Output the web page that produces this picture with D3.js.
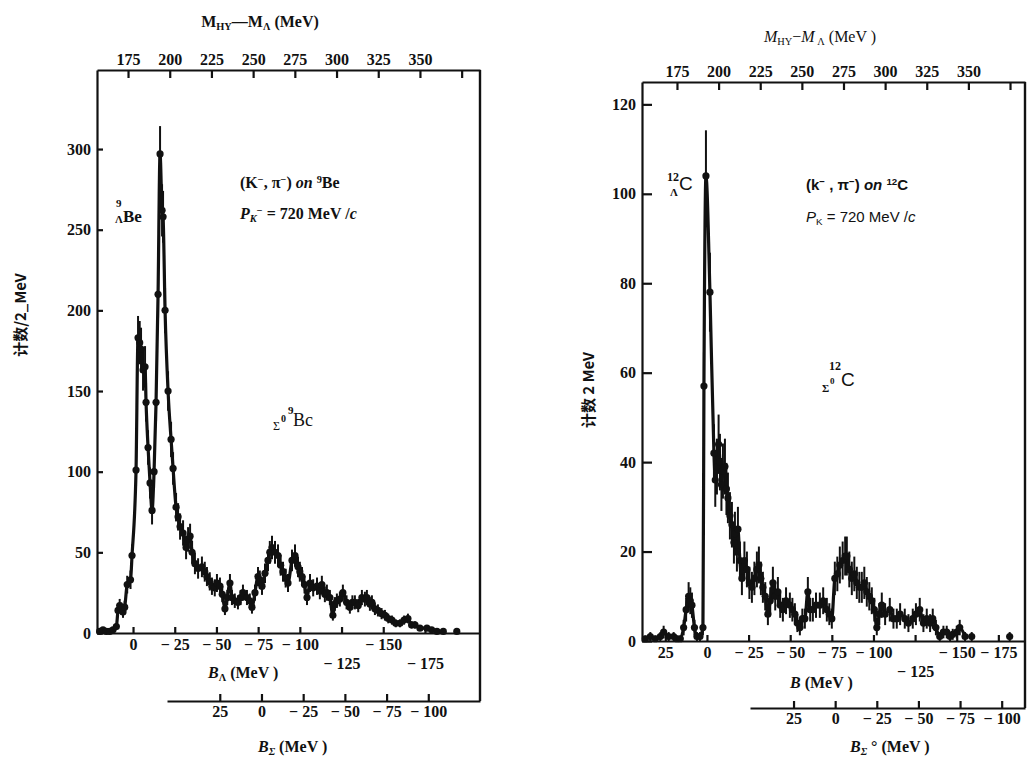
<!DOCTYPE html>
<html>
<head>
<meta charset="utf-8">
<script src="https://cdn.jsdelivr.net/npm/d3@7"></script>
<style>
  body { margin: 0; background: #fff; }
  svg text { font-family: "Liberation Serif", "DejaVu Serif", serif; fill: #111; }
  .axis path, .axis line { stroke: #111; stroke-width: 2.2; }
</style>
</head>
<body>
<svg id="svg1" width="1031" height="767"></svg>
<script>
// data ---------------------------------------------------------------
// left: (K-, pi-) on 9Be, B_Lambda (MeV) and counts / 2 MeV
var beB = [20, 18, 16, 14, 12, 10, 9, 8, 7, 6, 5, 3.5, 1.5, 0.6, -1.8, -3, -4, -4.8, -6, -7.2, -7.8, -9, -10.2,
  -11.4, -12.6, -13.8, -15, -16.2, -17.4, -18, -19.2, -21, -22.8, -24, -25.8, -27, -28.2, -30, -31.8, -33, -34.2,
  -35.4, -37.1, -39, -41.3, -43, -44.3, -46, -47.3, -49, -50.3, -52.1, -53.5, -55.1, -56.5, -58.1, -59.3, -61,
  -62.9, -64.5, -65.9, -68.3, -70, -71.3, -73.1, -74.9, -76, -77.3, -79.1, -80.9, -82, -83.3, -85.1, -86.9, -88.5,
  -89.9, -91.5, -92.9, -95.3, -97.1, -98.9, -100, -101.3, -102.8, -104.3, -106.1, -108, -110.3, -112, -113.2, -115,
  -116.2, -118, -119.8, -121, -122.2, -124, -125.8, -128, -130, -131.5, -133, -135, -137.2, -139, -140.2, -142,
  -143.2, -145, -146.8, -149, -151, -153, -155.2, -157.5, -160, -162.5, -164.8, -167, -169, -172, -176.2, -179,
  -182.2, -186, -194.1];
var beCounts = [1, 2, 1, 1, 2, 4, 14, 17, 15, 13, 16, 30, 33, 48, 101, 183, 180, 176, 163, 165, 143, 115, 93,
  76, 100, 143, 210, 297, 262, 258, 200, 150, 120, 102, 78, 72, 66, 62, 53, 58, 60,
  50, 43, 40, 41, 38, 35, 32, 29, 28, 31, 29, 24, 15, 22, 31, 22, 20,
  19, 22, 25, 22, 20, 16, 25, 35, 33, 29, 37, 45, 50, 53, 50, 48, 42,
  38, 34, 31, 45, 48, 41, 38, 35, 30, 22, 31, 28, 29, 26, 30, 24,
  25, 22, 11, 18, 20, 21, 25, 19, 16, 19, 19, 17, 22, 21, 22, 18,
  19, 15, 14, 12, 11, 9, 8, 6, 6, 8, 9, 5, 5, 3, 3, 2,
  1, 1, 1];

// right: (K-, pi-) on 12C, B (MeV) and counts / 2 MeV
var cB = [37, 34, 31, 28, 26, 23, 20, 18, 16, 14, 12.5, 11, 10, 9, 7.5, 6, 4.2, 2.4, 1.8, 0.6, -1.8, -4.2, -5, -6,
  -7, -7.8, -8.7, -9.6, -10.8, -11.7, -12.6, -13.8, -15, -16.2, -16.8, -18, -18.6, -19.8, -21, -22.5, -24, -25.5,
  -27, -28.5, -30, -31.2, -32.4, -33.6, -35, -36.6, -38, -39.6, -41, -42.6, -44, -45.6, -47.5, -49.8, -51.3, -52.8,
  -54.3, -55.8, -57.3, -58.8, -60.6, -62, -63.6, -65.5, -67.8, -69.8, -72, -73.5, -75, -76.8, -78.3, -79.8, -81.5,
  -83, -84, -85.5, -87, -88.5, -90, -91.5, -93, -94.5, -96, -97.5, -99, -100.5, -102, -103.5, -105, -107, -109.8,
  -112, -114, -116, -118.8, -121, -123.6, -125.5, -127.8, -130, -132, -134, -135.6, -137.5, -139.8, -142, -144,
  -146, -147.6, -150, -151.8, -155, -159, -181.8];
var cCounts = [0.5, 1, 0.5, 1, 2, 1, 1, 0.5, 0.5, 3, 7, 10, 9, 8, 3, 1, 1, 3, 57, 104, 78, 42, 36, 39,
  44, 40, 35, 38, 39, 34, 32, 28, 26, 22, 24, 20, 25, 18, 14, 18, 16, 13,
  12, 14, 16, 17, 14, 12, 10, 6, 9, 13, 10, 11, 8, 7, 9, 8, 7, 6,
  4, 3, 5, 5, 11, 7, 7, 8, 8, 9, 7, 6, 5, 14, 15, 17, 18,
  19, 19, 16, 14, 15, 13, 12, 12, 13, 11, 10, 9, 7, 3, 6, 8, 6, 7,
  5, 5, 6, 5, 4, 5, 6, 7, 4, 5, 4, 5, 3, 1, 2, 2,
  1, 1.5, 2, 3, 1, 1, 1];

// ticks
var beYTicks = [0, 50, 100, 150, 200, 250, 300];
var cYTicks = [0, 20, 40, 60, 80, 100, 120];
var massTicks = [175, 200, 225, 250, 275, 300, 325, 350, 375];
var massLabels = [175, 200, 225, 250, 275, 300, 325, 350];
var beBTicks = [0, -25, -50, -75, -100, -125, -150, -175];
var cBTicks = [25, 0, -25, -50, -75, -100, -125, -150, -175];
var sigmaTicks = [25, 0, -25, -50, -75, -100];

var svg = d3.select("#svg1");

function fmt(d) {
  return d < 0 ? "\u2212 " + (-d) : "" + d;
}

// serif bold for all tick labels (d3 sets sans-serif on the axis group)
function styleAxis(sel) {
  sel.selectAll("text")
    .style("font-family", "'Liberation Serif', 'DejaVu Serif', serif")
    .style("font-size", "16px")
    .style("font-weight", "bold");
}

// Draw one panel ------------------------------------------------------
function drawPanel(p) {
  var g = svg.append("g");
  var x = d3.scaleLinear().domain(p.xDomain).range(p.xRange);
  var y = d3.scaleLinear().domain(p.yDomain).range(p.yRange);
  var data = p.b.map(function(b, i) { return {b: b, c: p.counts[i]}; });

  // left axis
  g.append("g").attr("class", "axis")
    .attr("transform", "translate(" + p.xRange[0] + ",0)")
    .call(d3.axisLeft(y).tickValues(p.yTicks).tickSizeInner(-p.yTickLen).tickSizeOuter(0).tickPadding(6))
    .call(styleAxis);

  // top axis: M_HY - M_Lambda
  var mass = d3.scaleLinear()
    .domain(p.xDomain.map(function(b) { return p.mZero - b; }))
    .range(p.xRange);
  g.append("g").attr("class", "axis")
    .attr("transform", "translate(0," + p.yRange[1] + ")")
    .call(d3.axisTop(mass).tickValues(massTicks).tickSizeInner(-8).tickSizeOuter(0).tickPadding(5)
      .tickFormat(function(d) { return massLabels.indexOf(d) >= 0 ? d : ""; }))
    .call(styleAxis);

  // bottom axis: B_Lambda
  var bottom = g.append("g").attr("class", "axis")
    .attr("transform", "translate(0," + p.yRange[0] + ")")
    .call(d3.axisBottom(x).tickValues(p.bTicks).tickSizeInner(-6).tickSizeOuter(0).tickPadding(6).tickFormat(fmt))
    .call(styleAxis);
  bottom.selectAll(".tick text")
    .attr("dy", function(d) { return p.lowRow.indexOf(d) >= 0 ? "1.9em" : "0.71em"; });

  // second bottom axis: B_Sigma
  var sig = d3.scaleLinear()
    .domain([x.invert(p.sigmaStart) + p.sigmaShift, p.xDomain[1] + p.sigmaShift])
    .range([p.sigmaStart, p.xRange[1]]);
  g.append("g").attr("class", "axis")
    .attr("transform", "translate(0," + p.sigmaY + ")")
    .call(d3.axisBottom(sig).tickValues(sigmaTicks).tickSizeInner(-7).tickSizeOuter(0).tickPadding(5).tickFormat(fmt))
    .call(styleAxis);

  // right edge of frame, down to the B_Sigma axis
  g.append("line")
    .attr("x1", p.xRange[1]).attr("x2", p.xRange[1])
    .attr("y1", p.yRange[1]).attr("y2", p.sigmaY)
    .attr("stroke", "#111").attr("stroke-width", 2.4);

  // error bars
  g.append("g").selectAll("line")
    .data(data)
    .enter().append("line")
    .attr("x1", function(d) { return x(d.b); })
    .attr("x2", function(d) { return x(d.b); })
    .attr("y1", function(d) { return y(d.c + Math.sqrt(d.c)); })
    .attr("y2", function(d) { return y(Math.max(0, d.c - Math.sqrt(d.c))); })
    .attr("stroke", "#111").attr("stroke-width", 2);

  // fitted curve (only over the measured region)
  g.append("path")
    .datum(data.filter(function(d) { return d.b >= p.fitEnd; }))
    .attr("d", d3.line()
      .x(function(d) { return x(d.b); })
      .y(function(d) { return y(d.c); })
      .curve(d3.curveMonotoneX))
    .attr("fill", "none").attr("stroke", "#111").attr("stroke-width", 3.2)
    .attr("stroke-linejoin", "round");

  // points
  g.append("g").selectAll("circle")
    .data(data)
    .enter().append("circle")
    .attr("cx", function(d) { return x(d.b); })
    .attr("cy", function(d) { return y(d.c); })
    .attr("r", 3.6)
    .attr("fill", "#111");

  return g;
}

var left = drawPanel({
  b: beB, counts: beCounts,
  xDomain: [21.6, -208], xRange: [97, 480],
  yDomain: [0, 349], yRange: [633, 70],
  yTicks: beYTicks, yTickLen: 6,
  mZero: 178, bTicks: beBTicks, lowRow: [-125, -175],
  sigmaShift: 77, sigmaStart: 167, sigmaY: 701, fitEnd: -177
});

var right = drawPanel({
  b: cB, counts: cCounts,
  xDomain: [39, -191], xRange: [642, 1025],
  yDomain: [0, 125], yRange: [641, 82],
  yTicks: cYTicks, yTickLen: 10,
  mZero: 193, bTicks: cBTicks, lowRow: [-125],
  sigmaShift: 77, sigmaStart: 750, sigmaY: 708, fitEnd: -156
});

// Labels ----------------------------------------------------------------
function label(g, x, y, parts, opts) {
  opts = opts || {};
  var t = g.append("text").attr("x", x).attr("y", y)
    .attr("font-size", opts.size || 16)
    .attr("font-weight", opts.weight || "bold")
    .attr("text-anchor", opts.anchor || "start");
  if (opts.family) t.style("font-family", opts.family);
  if (opts.rotate) t.attr("transform", "rotate(" + opts.rotate + " " + x + " " + y + ")");
  parts.forEach(function(s) {
    var ts = t.append("tspan").text(s[0]);
    if (s[1] === "sub") ts.attr("font-size", "65%").attr("baseline-shift", "-25%");
    if (s[1] === "sup") ts.attr("font-size", "65%").attr("baseline-shift", "55%");
    if (s[2] === "i") ts.attr("font-style", "italic");
  });
  return t;
}

// left panel texts
label(left, 260, 27, [["M"], ["HY", "sub"], ["\u2014M"], ["\u039b", "sub"], [" (MeV)"]], {anchor: "middle"});
label(left, 240, 188, [["(K"], ["\u2212", "sup"], [",  \u03c0"], ["\u2212", "sup"], [") "], ["on", "", "i"], [" "], ["9", "sup"], ["Be"]]);
label(left, 240, 219, [["P", "", "i"], ["K", "sub", "i"], ["\u2212", "sup"], [" = 720  MeV /"], ["c", "", "i"]]);
label(left, 116, 207, [["9"]], {size: 11});
label(left, 115, 223, [["\u039b"]], {size: 11});
label(left, 123, 222, [["Be"]], {size: 17});
label(left, 273, 430, [["\u03a3"]], {size: 12, weight: "normal"});
label(left, 281, 422, [["0"]], {size: 10});
label(left, 288, 414, [["9"]], {size: 11});
label(left, 293, 426, [["Bc"]], {size: 18, weight: "normal"});
label(left, 208, 678, [["B", "", "i"], ["\u039b", "sub"], [" (MeV )"]]);
label(left, 258, 752, [["B", "", "i"], ["\u03a3", "sub", "i"], ["  (MeV )"]]);
label(left, 26, 315, [["\u8ba1\u6570/2_MeV"]], {anchor: "middle", rotate: -90, size: 15, family: "'Noto Sans CJK SC', 'Liberation Serif', serif"});

// right panel texts
label(right, 820, 42, [["M", "", "i"], ["HY", "sub"], ["\u2212"], ["M", "", "i"], [" \u039b", "sub"], [" (MeV )"]], {anchor: "middle", weight: "normal"});
label(right, 806, 190, [["(k"], ["\u2212", "sup"], [" ,  \u03c0"], ["\u2212", "sup"], [") "], ["on", "", "i"], [" "], ["12", "sup"], ["C"]],
  {size: 15, family: "'Liberation Sans', sans-serif"});
label(right, 806, 222, [["P", "", "i"], ["K", "sub"], [" = 720  MeV /"], ["c", "", "i"]],
  {size: 15, weight: "normal", family: "'Liberation Sans', sans-serif"});
label(right, 667, 181, [["12"]], {size: 12});
label(right, 670, 196, [["\u039b"]], {size: 11});
label(right, 679, 190, [["C"]], {size: 19, weight: "normal", family: "'Liberation Sans', sans-serif"});
label(right, 829, 370, [["12"]], {size: 12});
label(right, 822, 392, [["\u03a3"]], {size: 11});
label(right, 830, 384, [["0"]], {size: 9});
label(right, 841, 386, [["C"]], {size: 19, weight: "normal", family: "'Liberation Sans', sans-serif"});
label(right, 790, 688, [["B", "", "i"], [" (MeV )"]]);
label(right, 850, 752, [["B", "", "i"], ["\u03a3", "sub", "i"], [" \u00b0 "], [" (MeV )"]]);
label(right, 594, 390, [["\u8ba1\u6570  2 MeV"]], {anchor: "middle", rotate: -90, size: 15, family: "'Noto Sans CJK SC', 'Liberation Serif', serif"});
</script>
</body>
</html>
